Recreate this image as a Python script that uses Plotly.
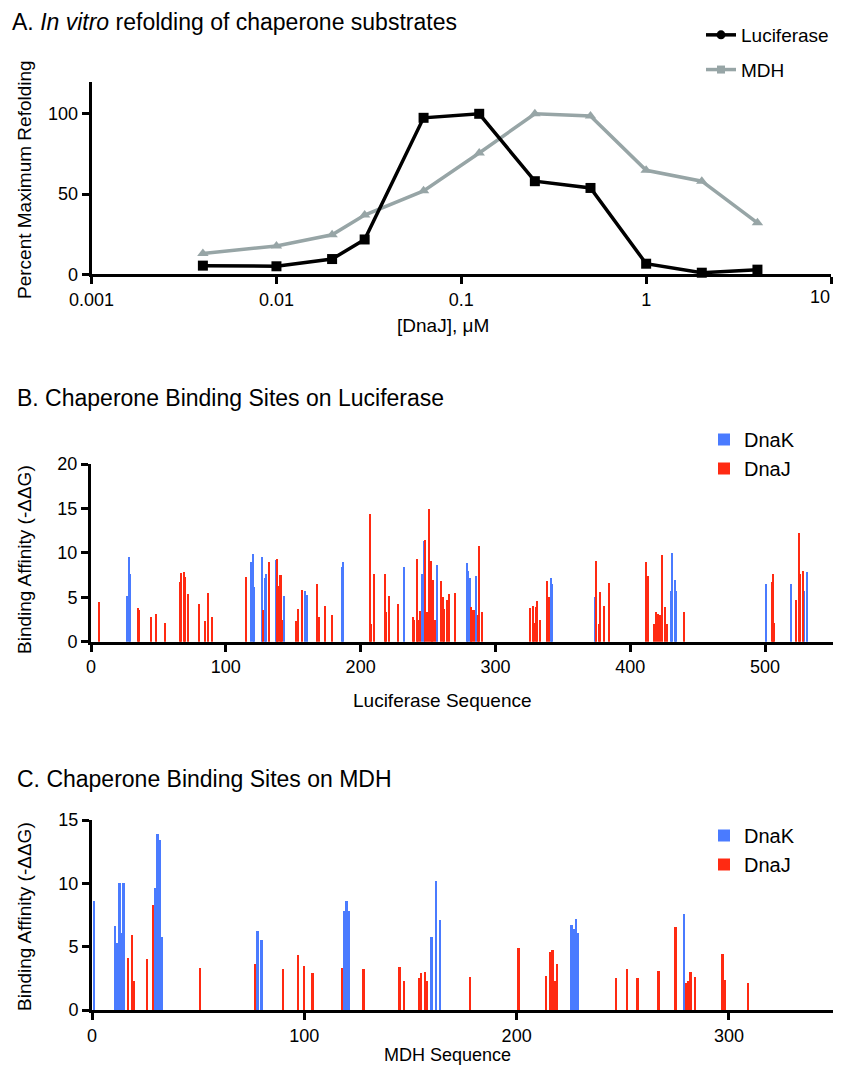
import plotly.graph_objects as go

# The page body adds an 8 px margin around the figure, so the figure is made
# 16 px smaller than the 841x1075 window and every position is shifted by 8 px.
OFF = 8
W, H = 841 - 2 * OFF, 1075 - 2 * OFF

# ---------------- Panel A data ----------------
dnaj_conc = [0.004, 0.01, 0.02, 0.03, 0.0625, 0.125, 0.25, 0.5, 1, 2, 4]
luciferase_refold = [5.4, 5.0, 9.5, 21.7, 97.5, 100, 58, 53.8, 6.6, 1.0, 2.9]
mdh_refold = [13, 17.6, 24.6, 36.9, 52, 75.6, 100, 98.6, 64.8, 58, 32.1]
a_xtick_vals = [0.001, 0.01, 0.1, 1, 10]
a_xtick_text = ["0.001", "0.01", "0.1", "1", ""]  # last label drawn separately (edge)
a_last_tick_label = "10"

# ---------------- Panel B data (Luciferase) ----------------
luc_dnak_pos = [27, 28, 29, 119, 120, 121, 127, 129, 130, 137, 143, 159, 160, 186, 187,
                232, 246, 247, 257, 279, 280, 281, 286, 341, 342, 374, 430, 431, 433, 434,
                501, 519, 529, 531]
luc_dnak_val = [5.1, 9.5, 7.6, 9.0, 9.9, 6.2, 9.5, 7.2, 7.6, 9.2, 5.1, 5.7, 5.3, 8.4, 9.0,
                8.4, 7.6, 11.3, 8.6, 8.85, 8.0, 7.2, 7.4, 7.2, 6.5, 5.05, 5.7, 10.0, 7.0, 5.7,
                6.5, 6.5, 5.7, 7.8]
luc_dnaj_pos = [6, 35, 36, 45, 48, 55, 66, 67, 69, 70, 72, 80, 85, 87, 90, 115, 128, 132,
                138, 139, 140, 141, 142, 152, 154, 157, 168, 169, 174, 179, 207, 208, 210,
                218, 219, 221, 228, 239, 240, 242, 243, 244, 248, 249, 251, 252, 253, 254,
                255, 260, 261, 262, 264, 266, 270, 282, 283, 284, 287, 288, 290, 326, 328,
                329, 330, 331, 333, 338, 340, 375, 377, 378, 381, 384, 412, 413, 418, 419,
                421, 422, 424, 426, 427, 440, 505, 506, 507, 523, 525, 526, 528]
luc_dnaj_val = [4.5, 3.8, 3.6, 2.8, 3.1, 2.1, 6.7, 7.7, 7.8, 7.3, 5.4, 4.2, 2.3, 5.5, 2.75,
                7.3, 3.6, 9.0, 9.3, 6.3, 7.5, 7.5, 2.45, 2.3, 3.65, 5.8, 6.5, 2.8, 4.0, 3.05,
                14.4, 2.0, 7.6, 7.6, 3.35, 5.2, 4.2, 2.8, 2.45, 9.3, 2.4, 3.5, 11.5, 3.3,
                14.9, 9.1, 3.9, 7.0, 2.45, 6.8, 5.05, 3.7, 4.7, 5.4, 5.5, 3.9, 3.55, 3.55,
                3.0, 10.8, 3.35, 3.8, 4.0, 2.1, 3.85, 4.6, 2.45, 6.8, 5.0, 9.1, 2.0, 5.6,
                4.0, 6.6, 9.0, 7.4, 2.0, 3.3, 3.15, 3.05, 9.75, 3.9, 2.0, 3.3, 6.7, 7.6, 2.1,
                4.7, 12.2, 7.6, 7.95]

# ---------------- Panel C data (MDH) ----------------
mdh_dnak_pos = [1, 11, 12, 13, 14, 15, 30, 31, 32, 33, 78, 80, 119, 120, 121, 160, 162, 164,
                226, 227, 228, 229, 279]
mdh_dnak_val = [8.6, 6.6, 5.3, 10.05, 6.05, 10.0, 9.6, 13.9, 13.4, 5.8, 6.2, 5.5, 7.8, 8.6,
                7.8, 5.8, 10.15, 7.1, 6.7, 6.4, 7.2, 6.1, 7.55]
mdh_dnaj_pos = [17, 19, 20, 26, 29, 51, 77, 90, 97, 100, 104, 118, 128, 145, 147, 154, 155,
                157, 158, 178, 201, 214, 216, 217, 218, 219, 247, 252, 257, 267, 275, 280,
                281, 282, 284, 297, 298, 309]
mdh_dnaj_val = [4.1, 5.9, 2.3, 4.05, 8.3, 3.3, 3.6, 3.2, 4.35, 3.5, 2.9, 3.3, 3.2, 3.4, 2.3,
                2.55, 2.9, 3.0, 2.3, 2.6, 4.9, 2.7, 4.6, 4.7, 2.3, 3.65, 2.5, 3.2, 2.55, 3.1,
                6.55, 2.15, 2.3, 2.97, 2.6, 4.45, 2.4, 2.15]

BLUE = "#4A7BFF"
RED = "#FF2A12"
GRAY = "#97A5A6"
FONT = "Liberation Sans, Arial, Helvetica, sans-serif"


def fx(p):
    return min(max((p - OFF) / W, 0), 1)


def fy(p):
    return min(max(1 - (p - OFF) / H, 0), 1)


fig = go.Figure()

# Panel A lines
fig.add_trace(go.Scatter(x=dnaj_conc, y=mdh_refold, mode="lines+markers",
                         line=dict(color=GRAY, width=3.5),
                         marker=dict(symbol="triangle-up", size=10, color=GRAY),
                         showlegend=False, cliponaxis=False, xaxis="x", yaxis="y"))
fig.add_trace(go.Scatter(x=dnaj_conc, y=luciferase_refold, mode="lines+markers",
                         line=dict(color="black", width=3.5),
                         marker=dict(symbol="square", size=10, color="black"),
                         showlegend=False, cliponaxis=False, xaxis="x", yaxis="y"))
# legend entries for panel A
fig.add_trace(go.Scatter(x=[None], y=[None], mode="lines+markers", name="Luciferase",
                         line=dict(color="black", width=3.5),
                         marker=dict(symbol="circle", size=9, color="black"),
                         legend="legend", legendgroup="luc", xaxis="x", yaxis="y"))
fig.add_trace(go.Scatter(x=[None], y=[None], mode="lines+markers", name="MDH",
                         line=dict(color=GRAY, width=3.5),
                         marker=dict(symbol="square", size=8, color=GRAY),
                         legend="legend", legendgroup="mdh", xaxis="x", yaxis="y"))

# Panel B bars
fig.add_trace(go.Bar(x=luc_dnak_pos, y=luc_dnak_val, width=1, name="DnaK",
                     marker=dict(color=BLUE, line=dict(width=0)),
                     legend="legend2", xaxis="x2", yaxis="y2"))
fig.add_trace(go.Bar(x=luc_dnaj_pos, y=luc_dnaj_val, width=1, name="DnaJ",
                     marker=dict(color=RED, line=dict(width=0)),
                     legend="legend2", xaxis="x2", yaxis="y2"))

# Panel C bars
fig.add_trace(go.Bar(x=mdh_dnak_pos, y=mdh_dnak_val, width=0.85, name="DnaK",
                     marker=dict(color=BLUE, line=dict(width=0)),
                     legend="legend3", xaxis="x3", yaxis="y3"))
fig.add_trace(go.Bar(x=mdh_dnaj_pos, y=mdh_dnaj_val, width=0.85, name="DnaJ",
                     marker=dict(color=RED, line=dict(width=0)),
                     legend="legend3", xaxis="x3", yaxis="y3"))

axis_common = dict(showline=True, linewidth=3, linecolor="black", ticks="outside",
                   ticklen=7, tickwidth=3, tickcolor="black", showgrid=False,
                   zeroline=False, automargin=False,
                   tickfont=dict(family=FONT, size=18, color="black"))

fig.update_layout(
    template="none",
    width=W, height=H, margin=dict(l=0, r=0, t=0, b=0, autoexpand=False),
    paper_bgcolor="white", plot_bgcolor="white",
    barmode="overlay", bargap=0,
    font=dict(family=FONT, color="black"),
    xaxis=dict(domain=[fx(91.6), fx(831)], anchor="y", type="log", range=[-3, 1],
               tickvals=a_xtick_vals, ticktext=a_xtick_text, **axis_common),
    yaxis=dict(domain=[fy(274.3), fy(81.7)], anchor="x", range=[0, 120],
               tickvals=[0, 50, 100], **axis_common),
    xaxis2=dict(domain=[fx(91), fx(832.5)], anchor="y2", range=[0, 550],
                tickvals=[0, 100, 200, 300, 400, 500], **axis_common),
    yaxis2=dict(domain=[fy(641.7), fy(464)], anchor="x2", range=[0, 20],
                tickvals=[0, 5, 10, 15, 20], **axis_common),
    xaxis3=dict(domain=[fx(92), fx(833)], anchor="y3", range=[0, 349],
                tickvals=[0, 100, 200, 300], **axis_common),
    yaxis3=dict(domain=[fy(1010), fy(820)], anchor="x3", range=[0, 15],
                tickvals=[0, 5, 10, 15], **axis_common),
    legend=dict(x=fx(701), y=fy(16), xanchor="left", yanchor="top",
                font=dict(family=FONT, size=19, color="black"),
                bgcolor="rgba(0,0,0,0)", tracegroupgap=7, traceorder="grouped"),
    legend2=dict(x=fx(704), y=fy(420), xanchor="left", yanchor="top",
                 font=dict(family=FONT, size=20, color="black"),
                 bgcolor="rgba(0,0,0,0)", traceorder="normal"),
    legend3=dict(x=fx(704), y=fy(816), xanchor="left", yanchor="top",
                 font=dict(family=FONT, size=20, color="black"),
                 bgcolor="rgba(0,0,0,0)", traceorder="normal"),
)

ann = []
# panel titles
ann.append(dict(text="A. <i>In vitro</i> refolding of chaperone substrates",
                x=fx(10), y=fy(22), xanchor="left", yanchor="middle", size=23))
ann.append(dict(text="B. Chaperone Binding Sites on Luciferase",
                x=fx(15), y=fy(398), xanchor="left", yanchor="middle", size=23))
ann.append(dict(text="C. Chaperone Binding Sites on MDH",
                x=fx(15), y=fy(779), xanchor="left", yanchor="middle", size=23))
# x axis titles
ann.append(dict(text="[DnaJ], μM", x=fx(443), y=fy(325), xanchor="center",
                yanchor="middle", size=19))
ann.append(dict(text="Luciferase Sequence", x=fx(443), y=fy(700), xanchor="center",
                yanchor="middle", size=19))
ann.append(dict(text="MDH Sequence", x=fx(447), y=fy(1055), xanchor="center",
                yanchor="middle", size=18))
# last tick label of panel A (kept inside the page edge)
ann.append(dict(text=a_last_tick_label, x=fx(832), y=fy(297), xanchor="right",
                yanchor="middle", size=18))

annotations = []
for a in ann:
    annotations.append(dict(text=a["text"], x=a["x"], y=a["y"], xref="paper", yref="paper",
                            xanchor=a["xanchor"], yanchor=a["yanchor"], showarrow=False,
                            font=dict(family=FONT, size=a["size"], color="black")))
# y axis titles
for txt, cy in [("Percent Maximum Refolding", 180),
                ("Binding Affinity (-ΔΔG)", 560),
                ("Binding Affinity (-ΔΔG)", 917)]:
    annotations.append(dict(text=txt, x=fx(24), y=fy(cy), xref="paper", yref="paper",
                            xanchor="center", yanchor="middle", showarrow=False,
                            textangle=-90,
                            font=dict(family=FONT, size=19, color="black")))
fig.update_layout(annotations=annotations)

fig.write_html("out.html")
